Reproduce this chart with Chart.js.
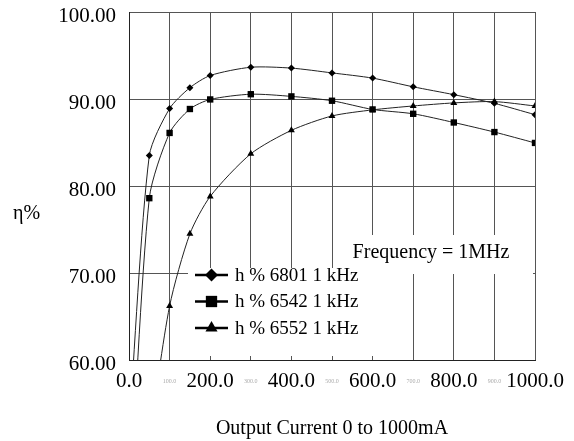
<!DOCTYPE html>
<html>
<head>
<meta charset="utf-8">
<script src="https://cdn.jsdelivr.net/npm/chart.js@4.4.1/dist/chart.umd.min.js"></script>
<style>
  html, body { margin: 0; padding: 0; background: #fff; }
  #wrap { width: 574px; height: 441px; }
</style>
</head>
<body>
<div id="wrap"><canvas id="effChart" width="574" height="441"></canvas></div>
<script>
// output current (mA) and efficiency (%)
const currentMa = [0, 50, 100, 150, 200, 300, 400, 500, 600, 700, 800, 900, 1000];
const eff6801 = [52, 83.5, 88.9, 91.3, 92.7, 93.65, 93.55, 93.0, 92.4, 91.4, 90.5, 89.5, 88.2];
const eff6542 = [42, 78.6, 86.1, 88.85, 89.95, 90.55, 90.3, 89.8, 88.8, 88.3, 87.3, 86.2, 84.95];
const eff6552 = [null, 51, 66.2, 74.5, 78.8, 83.7, 86.4, 88.05, 88.75, 89.2, 89.55, 89.7, 89.2];

const seriesLabels = ['h % 6801 1 kHz', 'h % 6542 1 kHz', 'h % 6552 1 kHz'];
const xTicks = [0, 100, 200, 300, 400, 500, 600, 700, 800, 900, 1000];
const yTicks = [60, 70, 80, 90, 100];

const FONT = "'Liberation Serif', 'Times New Roman', serif";
const gridColor = '#555';

function toPoints(values) {
    return currentMa.map((x, i) => ({ x: x, y: values[i] }));
}

function isMajor(c) {
    return !c.tick || c.tick.value % 200 === 0;
}

// white boxes, legend and the y label drawn inside the plot
const overlayPlugin = {
    id: 'overlay',
    beforeDatasetsDraw(chart) {
        const { ctx, chartArea: a } = chart;
        ctx.save();
        ctx.fillStyle = '#fff';
        ctx.fillRect(a.left + 59, a.top + 256, 191, 88);   // legend box
        ctx.fillRect(a.left + 204, a.top + 223, 200, 39);  // frequency note
        ctx.restore();
    },
    afterDatasetsDraw(chart) {
        const { ctx, chartArea: a } = chart;
        ctx.save();

        ctx.fillStyle = '#000';
        ctx.font = '20px ' + FONT;
        ctx.textBaseline = 'middle';
        ctx.textAlign = 'center';
        ctx.fillText('Frequency = 1MHz', a.left + 302, a.top + 241);

        ctx.textAlign = 'left';
        ctx.fillText('\u03b7%', 13, a.top + 202);

        const legendSizes = [6.5, 8, 7];
        chart.data.datasets.forEach((ds, i) => {
            const y = a.top + 263 + i * 26.5;
            const x0 = a.left + 66;
            ctx.strokeStyle = '#000';
            ctx.lineWidth = 2.5;
            ctx.beginPath();
            ctx.moveTo(x0, y);
            ctx.lineTo(x0 + 33, y);
            ctx.stroke();
            ctx.fillStyle = '#000';
            Chart.helpers.drawPoint(ctx, {
                pointStyle: ds.pointStyle,
                radius: legendSizes[i],
                rotation: 0,
                borderWidth: 0
            }, x0 + 16.5, y);
            ctx.font = '19px ' + FONT;
            ctx.fillText(ds.label, x0 + 40, y + 1);
        });
        ctx.restore();
    }
};

const makeSet = (label, values, style, radius) => ({
    label: label,
    data: toPoints(values),
    borderColor: '#222',
    backgroundColor: '#000',
    borderWidth: 1,
    pointStyle: style,
    pointRadius: radius,
    pointBorderWidth: 0,
    pointBackgroundColor: '#000',
    tension: 0.25,
    spanGaps: false
});

new Chart(document.getElementById('effChart').getContext('2d'), {
    type: 'line',
    data: {
        datasets: [
            makeSet(seriesLabels[0], eff6801, 'rectRot', 3.5),
            makeSet(seriesLabels[1], eff6542, 'rect', 4.5),
            makeSet(seriesLabels[2], eff6552, 'triangle', 4)
        ]
    },
    options: {
        responsive: false,
        animation: false,
        events: [],
        layout: { padding: { left: 0, right: 39, top: 12, bottom: 0 } },
        plugins: {
            legend: { display: false },
            tooltip: { enabled: false }
        },
        scales: {
            x: {
                type: 'linear',
                min: 0,
                max: 1000,
                afterFit(scale) { scale.height = 81; },
                afterBuildTicks(scale) { scale.ticks = xTicks.map(v => ({ value: v })); },
                grid: { color: gridColor, drawTicks: false },
                border: { color: '#222' },
                ticks: {
                    autoSkip: false,
                    maxRotation: 0,
                    padding: 9,
                    callback: v => v.toFixed(1),
                    color: c => (isMajor(c) ? '#000' : '#aaa'),
                    font: c => (isMajor(c)
                        ? { family: FONT, size: 21, lineHeight: 1.15 }
                        : { family: FONT, size: 6, lineHeight: 4 })
                },
                title: {
                    display: true,
                    text: 'Output Current 0 to 1000mA',
                    color: '#000',
                    font: { family: FONT, size: 20 },
                    padding: { top: 0, bottom: 0 }
                }
            },
            y: {
                min: 60,
                max: 100,
                afterFit(scale) {
                    scale.width = 129;
                    scale.paddingTop = 0;
                    scale.paddingBottom = 0;
                },
                afterBuildTicks(scale) { scale.ticks = yTicks.map(v => ({ value: v })); },
                grid: { color: gridColor, drawTicks: false },
                border: { color: '#222' },
                ticks: {
                    padding: 13,
                    labelOffset: 4,
                    color: '#000',
                    font: { family: FONT, size: 21, lineHeight: 1.15 },
                    callback: v => v.toFixed(2)
                }
            }
        }
    },
    plugins: [overlayPlugin]
});
</script>
</body>
</html>
